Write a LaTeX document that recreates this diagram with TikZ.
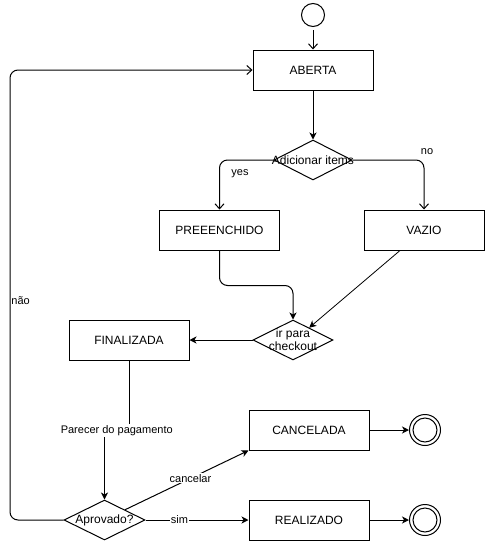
\documentclass[tikz,border=0pt]{standalone}
\usepackage{fontspec}
\setmainfont{Liberation Sans}
\usetikzlibrary{arrows.meta,shapes.geometric,calc}
\begin{document}
\begin{tikzpicture}[x=1pt,y=-1pt,line width=1pt,
  box/.style={draw,rectangle,minimum width=120pt,minimum height=40pt,inner sep=0pt,font=\fontsize{12}{14}\selectfont},
  dia/.style={draw,diamond,minimum width=80pt,minimum height=40pt,inner sep=0pt},
  dtext/.style={font=\fontsize{12}{13}\selectfont,align=center,inner sep=0pt},
  lbl/.style={font=\fontsize{11}{13}\selectfont,inner sep=1pt},
  wlbl/.style={lbl,fill=white},
  fa/.style={-{Stealth[length=7pt,width=7pt,inset=2pt]}},
  oa/.style={-{Straight Barb[length=5pt,width=9pt]}},
]
\useasboundingbox (0,0) rectangle (485,541);
% nodes
\node[draw,circle,minimum size=23pt,inner sep=0pt] (s) at (313,15) {};
\node[box] (a) at (313,70) {ABERTA};
\node[dia,minimum width=78pt] (d1) at (313,160) {};
\node[dtext] (d1t) at (313,160) {Adicionar items};
\node[box] (p) at (219.5,230) {PREEENCHIDO};
\node[box] (v) at (424,230) {VAZIO};
\node[dia] (d2) at (293,340) {};
\node[dtext] (d2t) at (293,340) {ir para\\checkout};
\node[box] (f) at (129,340) {FINALIZADA};
\node[dia,minimum width=81pt] (d3) at (104.5,520) {};
\node[dtext] (d3t) at (104.5,520) {Aprovado?};
\node[box] (c) at (309,430) {CANCELADA};
\node[box] (r) at (309,520) {REALIZADO};
\node[draw,circle,minimum size=31pt,inner sep=0pt] (e1) at (425,430) {};
\node[draw,circle,minimum size=24pt,inner sep=0pt] (e1i) at (425,430) {};
\node[draw,circle,minimum size=31pt,inner sep=0pt] (e2) at (425,520) {};
\node[draw,circle,minimum size=24pt,inner sep=0pt] (e2i) at (425,520) {};
% edges
\draw[oa,shorten <=3pt] (s) -- (a);
\draw[fa] (a) -- (d1);
\draw[oa,rounded corners=8pt] (d1.west) -| (p.north);
\node[lbl] (yes) at (240,174) {yes};
\draw[oa,rounded corners=8pt] (d1.east) -| (v.north);
\node[lbl] (no) at (427,152) {no};
\draw[fa,rounded corners=8pt] (p.south) -- ([yshift=-35pt]p.south) -| (d2.north);
\coordinate (vin) at ($(d2.north)!0.4!(d2.east)$);
\draw[fa,line width=0.8pt] ([xshift=-24pt]v.south) -- (vin);
\draw[fa] (d2.west) -- (f.east);
\draw[fa] (f.south) -- ++(0,70) -| node[wlbl,pos=0.25] (par) {Parecer do pagamento} (d3.north);
\draw[oa,rounded corners=8pt] (d3.west) -- (10,520) |- (a.west);
\node[lbl,anchor=west] (nao) at (10,301) {não};
\draw[fa] (d3.north east) -- node[wlbl,pos=0.53] (can) {cancelar} (c.south west);
\draw[fa] (d3.east) -- node[wlbl,pos=0.33] (sim) {sim} (r.west);
\draw[fa] (c.east) -- (e1.west);
\draw[fa] (r.east) -- (e2.west);
\end{tikzpicture}
\end{document}
